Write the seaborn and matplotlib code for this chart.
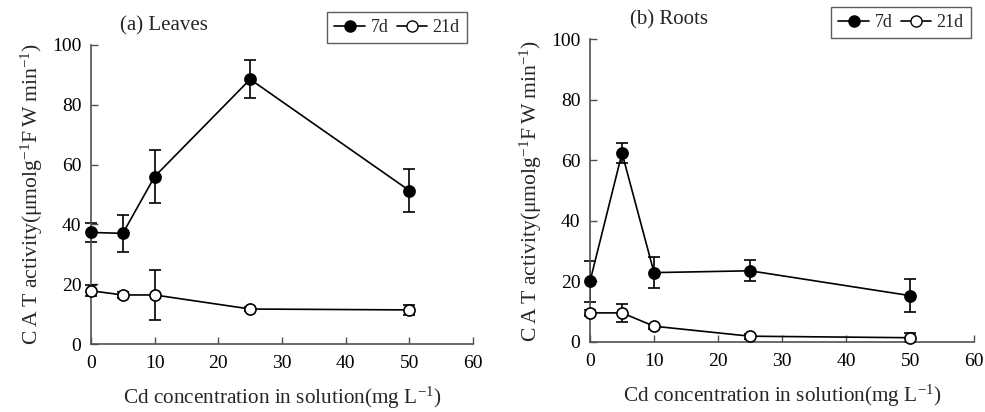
import numpy as np
import pandas as pd
import matplotlib
matplotlib.use("Agg")
import matplotlib.pyplot as plt
import seaborn as sns
from matplotlib.lines import Line2D

sns.set_theme(style="ticks")
plt.rcParams['font.family'] = ['Liberation Serif', 'DejaVu Serif']
plt.rcParams['mathtext.fontset'] = 'custom'
plt.rcParams['mathtext.rm'] = 'Liberation Serif'
plt.rcParams['mathtext.it'] = 'Liberation Serif'
plt.rcParams['mathtext.bf'] = 'Liberation Serif'

cd = [0, 5, 10, 25, 50]
leaves_7d = [37.3, 37.0, 56.0, 88.5, 51.3]
leaves_7d_err = [3.2, 6.1, 9.0, 6.4, 7.2]
leaves_21d = [17.8, 16.4, 16.4, 11.7, 11.4]
leaves_21d_err = [1.8, 1.0, 8.3, 0.8, 1.8]
roots_7d = [20.0, 62.4, 22.9, 23.5, 15.3]
roots_7d_err = [6.7, 3.3, 5.0, 3.5, 5.5]
roots_21d = [9.6, 9.6, 5.2, 1.9, 1.4]
roots_21d_err = [1.0, 2.9, 0.8, 0.8, 1.5]

titles = ["(a) Leaves", "(b) Roots"]
series_labels = ["7d", "21d"]
xticks = [0, 10, 20, 30, 40, 50, 60]
yticks = [0, 20, 40, 60, 80, 100]

fig = plt.figure(figsize=(9.85, 4.12), dpi=100)
ax1 = fig.add_axes([0.0924, 0.165, 0.3878, 0.726])
ax2 = fig.add_axes([0.599, 0.170, 0.390, 0.735])

panels = [
    (ax1, leaves_7d, leaves_7d_err, leaves_21d, leaves_21d_err),
    (ax2, roots_7d, roots_7d_err, roots_21d, roots_21d_err),
]

spine_col = '#505050'
ts = '\u2009'
for i, (ax, s7, e7, s21, e21) in enumerate(panels):
    df = pd.DataFrame({
        'cd': cd * 2,
        'val': s7 + s21,
        'err': e7 + e21,
        'series': [series_labels[0]] * 5 + [series_labels[1]] * 5,
    })
    for lab, face in zip(series_labels, ['black', 'white']):
        sub = df[df['series'] == lab]
        ax.errorbar(sub['cd'], sub['val'], yerr=sub['err'], fmt='none',
                    ecolor='black', elinewidth=1.2, capsize=4.5, capthick=1.2, zorder=2)
        sns.lineplot(data=sub, x='cd', y='val', ax=ax, color='black', linewidth=1.2,
                     marker='o', markersize=8, markerfacecolor=face,
                     markeredgecolor='black', markeredgewidth=1.2, zorder=3,
                     legend=False)
    ax.set_xlim(0, 60)
    ax.set_ylim(0, 100)
    ax.set_xticks(xticks)
    ax.set_yticks(yticks)
    ax.tick_params(axis='both', direction='in', length=5, width=1, colors=spine_col,
                   labelcolor='black', labelsize=14)
    ax.tick_params(axis='y', pad=7)
    ax.tick_params(axis='x', pad=8)
    for sp in ['top', 'right']:
        ax.spines[sp].set_visible(False)
    for sp in ['left', 'bottom']:
        ax.spines[sp].set_color(spine_col)
        ax.spines[sp].set_linewidth(1.2)
    ax.set_xlabel('Cd concentration in solution(mg L$^{-1}$)', fontsize=15.3, labelpad=9)
    ax.set_ylabel(f'C{ts}A{ts}T activity(μmolg$^{{-1}}$F{ts}W{ts}min$^{{-1}}$)',
                  fontsize=15.6, labelpad=5)
    ax.set_title(titles[i], fontsize=15, loc='left', x=0.075 if i == 0 else 0.104, y=1.02)
    for ln in ax.lines:
        ln.set_clip_on(False)
    handles = [
        Line2D([0], [0], color='black', lw=1.2, marker='o', markersize=8,
               markerfacecolor='black', markeredgecolor='black'),
        Line2D([0], [0], color='black', lw=1.2, marker='o', markersize=8,
               markerfacecolor='white', markeredgecolor='black'),
    ]
    leg = ax.legend(handles, series_labels, ncol=2, loc='upper right',
                    bbox_to_anchor=((467 if i == 0 else 971) / 985, 1 - 12 / 412 if i == 0 else 1 - 7 / 412),
                    bbox_transform=fig.transFigure, frameon=True, fancybox=False,
                    fontsize=13, handlelength=1.7, handletextpad=0.3, columnspacing=0.45,
                    borderpad=0.4, borderaxespad=0)
    leg.get_frame().set_edgecolor('#333333')
    leg.get_frame().set_linewidth(1.0)

fig.savefig('out.png', dpi=100)
